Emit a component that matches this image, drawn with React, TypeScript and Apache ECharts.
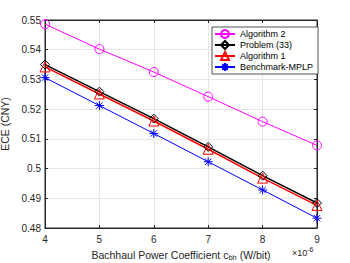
import React, { useEffect, useRef } from "react";
import * as echarts from "echarts";

const xValues = [4, 5, 6, 7, 8, 9];
const algorithm2 = [0.5486, 0.5402, 0.5325, 0.5242, 0.5158, 0.5078];
const problem33 = [0.535, 0.5259, 0.5168, 0.5073, 0.4976, 0.4884];
const algorithm1 = [0.5342, 0.5251, 0.516, 0.5065, 0.4968, 0.4876];
const benchmark = [0.5306, 0.5212, 0.5118, 0.5023, 0.4928, 0.4833];

const FONT = "Liberation Sans";
const AXIS = "#262626";
const ASTERISK = "path://M0,-1L0,1M-1,0L1,0M-0.7,-0.7L0.7,0.7M-0.7,0.7L0.7,-0.7";

function pairs(ys: number[]) {
  return xValues.map((x, i) => [x, ys[i]]);
}

export default function App() {
  const ref = useRef<HTMLDivElement>(null);
  useEffect(() => {
    if (!ref.current) return;
    const chart = echarts.init(ref.current, undefined, { renderer: "svg" });
    const tickCommon = { inside: true, length: 3, lineStyle: { color: AXIS } };
    chart.setOption({
      animation: false,
      backgroundColor: "#fff",
      textStyle: { fontFamily: FONT },
      grid: {
        left: 45,
        right: 33,
        top: 20,
        bottom: 35,
        containLabel: false,
        outerBoundsMode: "none",
        show: true,
        borderColor: AXIS,
        borderWidth: 1,
      },
      legend: {
        left: 212,
        top: 27,
        orient: "vertical",
        backgroundColor: "#fff",
        borderColor: AXIS,
        borderWidth: 0.8,
        borderRadius: 0,
        padding: [2, 5, 2, 2],
        itemGap: 1,
        itemWidth: 20,
        itemHeight: 10,
        textStyle: { fontFamily: FONT, fontSize: 9, color: "#000" },
        data: ["Algorithm 2", "Problem (33)", "Algorithm 1", "Benchmark-MPLP"],
      },
      xAxis: [
        {
          type: "value",
          min: 4,
          max: 9,
          interval: 1,
          name: "Bachhaul Power Coefficient c{sub|bh} (W/bit)",
          nameLocation: "middle",
          nameGap: 21,
          nameTextStyle: {
            fontFamily: FONT,
            fontSize: 10.5,
            color: AXIS,
            rich: { sub: { fontFamily: FONT, fontSize: 7.5, color: AXIS, verticalAlign: "bottom", padding: [4, 0, 0, 0] } },
          },
          axisLine: { show: true, lineStyle: { color: AXIS } },
          axisTick: tickCommon,
          axisLabel: { fontFamily: FONT, fontSize: 10, color: AXIS, margin: 6 },
          splitLine: { show: true, lineStyle: { color: "#e6e6e6", width: 1 } },
        },
        {
          type: "value",
          position: "top",
          min: 4,
          max: 9,
          interval: 1,
          axisLine: { show: true, lineStyle: { color: AXIS } },
          axisTick: tickCommon,
          axisLabel: { show: false },
          splitLine: { show: false },
        },
      ],
      yAxis: [
        {
          type: "value",
          min: 0.48,
          max: 0.55,
          interval: 0.01,
          name: "ECE (CNY)",
          nameLocation: "middle",
          nameGap: 31,
          nameTextStyle: { fontFamily: FONT, fontSize: 10.5, color: AXIS },
          axisLine: { show: true, lineStyle: { color: AXIS } },
          axisTick: tickCommon,
          axisLabel: {
            fontFamily: FONT,
            fontSize: 10,
            color: AXIS,
            margin: 4,
            formatter: (v: number) => String(+v.toFixed(2)),
          },
          splitLine: { show: true, lineStyle: { color: "#e6e6e6", width: 1 } },
        },
        {
          type: "value",
          position: "right",
          min: 0.48,
          max: 0.55,
          interval: 0.01,
          axisLine: { show: true, lineStyle: { color: AXIS } },
          axisTick: tickCommon,
          axisLabel: { show: false },
          splitLine: { show: false },
        },
      ],
      series: [
        {
          name: "Algorithm 2",
          type: "line",
          data: pairs(algorithm2),
          symbol: "circle",
          symbolSize: 9,
          lineStyle: { color: "#ff00ff", width: 1 },
          itemStyle: { color: "rgba(0,0,0,0)", borderColor: "#ff00ff", borderWidth: 1 },
        },
        {
          name: "Problem (33)",
          type: "line",
          data: pairs(problem33),
          symbol: "diamond",
          symbolSize: 9,
          lineStyle: { color: "#000", width: 1.5 },
          itemStyle: { color: "rgba(0,0,0,0)", borderColor: "#000", borderWidth: 1 },
        },
        {
          name: "Algorithm 1",
          type: "line",
          data: pairs(algorithm1),
          symbol: "triangle",
          symbolSize: 10,
          lineStyle: { color: "#ff0000", width: 1.5 },
          itemStyle: { color: "rgba(0,0,0,0)", borderColor: "#ff0000", borderWidth: 1 },
        },
        {
          name: "Benchmark-MPLP",
          type: "line",
          data: pairs(benchmark),
          symbol: ASTERISK,
          symbolSize: 9,
          lineStyle: { color: "#0000ff", width: 1 },
          itemStyle: { color: "rgba(0,0,0,0)", borderColor: "#0000ff", borderWidth: 1 },
        },
      ],
      graphic: [
        {
          type: "text",
          left: 292,
          top: 246,
          style: {
            text: "×10{sup|-6}",
            fontFamily: FONT,
            fontSize: 9,
            fill: AXIS,
            rich: { sup: { fontFamily: FONT, fontSize: 7, fill: AXIS, verticalAlign: "top", padding: [0, 0, 6, 0] } },
          },
        },
      ],
    });
    return () => chart.dispose();
  }, []);
  return <div ref={ref} style={{ width: 350, height: 263, position: "absolute", left: 0, top: 0 }} />;
}
